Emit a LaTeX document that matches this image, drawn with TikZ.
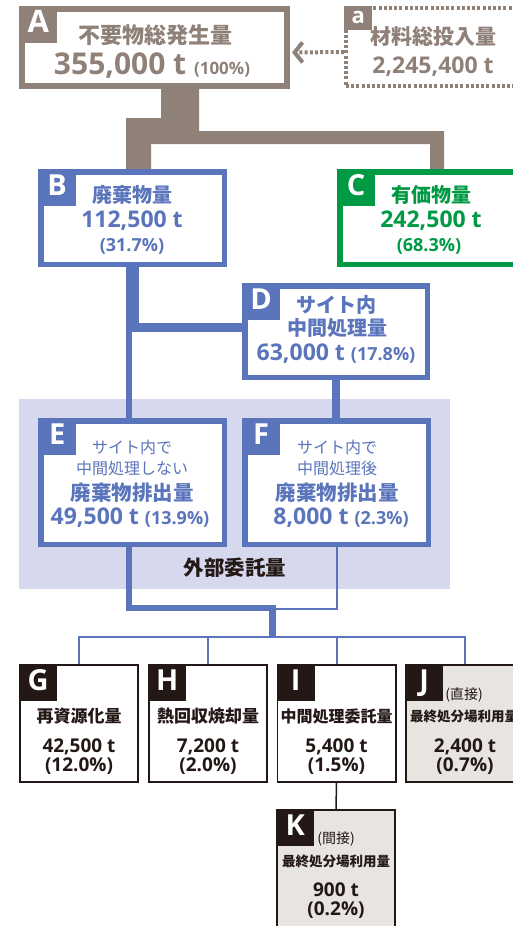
\documentclass[tikz,border=0pt]{standalone}
\usepackage{fontspec}
\setmainfont{Open Sans}
\newfontfamily\jpfont{Noto Sans CJK JP}
\usetikzlibrary{arrows.meta, positioning, calc}
\definecolor{flowBrown}{HTML}{8F8078}
\definecolor{flowBlue}{HTML}{5A75BB}
\definecolor{flowGreen}{HTML}{009A44}
\definecolor{outsourceBack}{HTML}{D6D9EE}
\definecolor{inkDark}{HTML}{231815}
\definecolor{landfillGray}{HTML}{E8E5E1}
\newcommand{\setfs}[1]{\fontsize{#1}{#1}\selectfont}

\begin{document}
\begin{tikzpicture}[
    x=1pt, y=-1pt,
    box/.style={fill=white, inner sep=0pt},
    brownbox/.style={box, draw=flowBrown, line width=6pt},
    dotbox/.style={box, draw=flowBrown, line width=4pt, dash pattern=on 3pt off 2.2pt},
    bluebox/.style={box, draw=flowBlue, line width=5.5pt},
    greenbox/.style={box, draw=flowGreen, line width=5.5pt},
    darkbox/.style={box, draw=inkDark, line width=1.8pt},
    tagsq/.style={
        anchor=north west,
        minimum width=38pt,
        minimum height=37pt,
        inner sep=0pt,
        text=white,
        font=\bfseries\setfs{29},
        text height=21pt,
        text depth=6pt
    },
    jpt/.style={inner sep=0pt, font=\jpfont\bfseries\setfs{#1}},
    jpr/.style={inner sep=0pt, font=\jpfont\setfs{#1}},
    num/.style={inner sep=0pt, font=\bfseries\setfs{#1}},
    thinflow/.style={draw=flowBlue, line width=2pt},
    dotarrow/.style={
        draw=flowBrown,
        line width=4pt,
        dash pattern=on 3pt off 2.2pt,
        -{Straight Barb[length=8pt, width=20pt]}
    }
]
\useasboundingbox (0,0) rectangle (513,926);
\begin{scope}
\clip (0,0) rectangle (513,926);

% Outsourced area
\fill[outsourceBack] (19,399) rectangle (450,589);

% Flow from A to B and C
\fill[flowBrown] (161,88) -- (199,88) -- (199,131) -- (444,131) -- (444,170)
    -- (430,170) -- (430,144) -- (151,144) -- (151,170) -- (126,170)
    -- (126,118) -- (161,118) -- cycle;

% Flow from B to D, E, F
\fill[flowBlue] (126,266) rectangle (139,332);
\fill[flowBlue] (126,323) rectangle (243,332);
\fill[flowBlue] (126,332) rectangle (132,419);
\fill[flowBlue] (332,379) rectangle (340,419);
\fill[flowBlue] (126,546) rectangle (132,611);
\fill[flowBlue] (126,605) rectangle (276,611);
\fill[flowBlue] (269,605) rectangle (276,638);

% Boxes
\node[brownbox, minimum width=265pt, minimum height=77pt] (A) at (154.5,47.5) {};
\node[dotbox, minimum width=192pt, minimum height=78pt] (a) at (442,47) {};
\node[bluebox, minimum width=183.5pt, minimum height=92.5pt] (B) at (132.5,218) {};
\node[greenbox, minimum width=197.5pt, minimum height=92.5pt] (C) at (438.5,218) {};
\node[bluebox, minimum width=182.5pt, minimum height=91.5pt] (D) at (336,331.5) {};
\node[bluebox, minimum width=183.5pt, minimum height=123.5pt] (E) at (132.5,482.5) {};
\node[bluebox, minimum width=183.5pt, minimum height=123.5pt] (F) at (336.5,482.5) {};
\foreach \n/\x in {G/79,H/208,I/336.5} {
    \node[darkbox, minimum width=118.2pt, minimum height=117.2pt] (\n) at (\x,723.5) {};
}
\node[darkbox, fill=landfillGray, minimum width=118.2pt, minimum height=117.2pt] (J) at (465,723.5) {};
\node[darkbox, fill=landfillGray, minimum width=118.2pt, minimum height=149.2pt] (K) at (336,884.5) {};

% Connectors
\coordinate (bus) at (0,637);
\draw[thinflow] (F.south) |- (276,609);
\draw[thinflow] (G.north) |- (J.north |- bus) -- (J.north);
\foreach \n in {H,I} {
    \draw[thinflow] (\n.north) -- (\n.north |- bus);
}
\draw[inkDark, line width=1.5pt] (I.south) -- (K.north);
\draw[dotarrow] ([yshift=-5pt]a.west) -- ([xshift=2pt, yshift=-5pt]A.east);

% Letter tags
\node[tagsq, fill=flowBrown, font=\bfseries\setfs{31}, text height=22pt] (Atag) at (A.north west) {A};
\node[tagsq, fill=flowBrown, minimum width=28pt, minimum height=24pt,
    font=\bfseries\setfs{22}, text height=12pt, text depth=2pt] (atag) at (a.north west) {a};
\foreach \n in {B,D,E,F} {
    \node[tagsq, fill=flowBlue] (\n tag) at (\n.north west) {\n};
}
\node[tagsq, fill=flowGreen] (Ctag) at (C.north west) {C};
\foreach \n in {G,H,I,J,K} {
    \node[tagsq, fill=inkDark] (\n tag) at (\n.north west) {\n};
}

% A and a
\node[jpt=22, text=flowBrown] (Atitle) at (155,35) {不要物総発生量};
\node[num=30, text=flowBrown] (Aval) at (152,66) {355,000 t {\setfs{17}(100\%)}};
\node[jpt=21, text=flowBrown] (atitle) at (433,37) {材料総投入量};
\node[num=23, text=flowBrown] (aval) at (433,67) {2,245,400 t};

% B and C
\node[jpt=20, text=flowBlue] (Btitle) at (132,195) {廃棄物量};
\node[num=23, text=flowBlue] (Bval) at (132,221) {112,500 t};
\node[num=18, text=flowBlue] (Bpct) at (132,246) {(31.7\%)};
\node[jpt=20, text=flowGreen] (Ctitle) at (431,195) {有価物量};
\node[num=23, text=flowGreen] (Cval) at (431,221) {242,500 t};
\node[num=18, text=flowGreen] (Cpct) at (429,246) {(68.3\%)};

% D
\node[jpt=20, text=flowBlue] (Dtitle1) at (336,305) {サイト内};
\node[jpt=20, text=flowBlue] (Dtitle2) at (337,328) {中間処理量};
\node[num=23, text=flowBlue] (Dval) at (336,354) {63,000 t {\setfs{18}(17.8\%)}};

% E and F
\node[jpr=16, text=flowBlue] (Enote1) at (132,447) {サイト内で};
\node[jpr=16, text=flowBlue] (Enote2) at (132,468) {中間処理しない};
\node[jpt=20.5, text=flowBlue] (Etitle) at (132,493) {廃棄物排出量};
\node[num=23, text=flowBlue] (Eval) at (130,518) {49,500 t {\setfs{18}(13.9\%)}};
\node[jpr=16, text=flowBlue] (Fnote1) at (337,447) {サイト内で};
\node[jpr=16, text=flowBlue] (Fnote2) at (337,468) {中間処理後};
\node[jpt=20.5, text=flowBlue] (Ftitle) at (337,493) {廃棄物排出量};
\node[num=23, text=flowBlue] (Fval) at (341,518) {8,000 t {\setfs{18}(2.3\%)}};

\node[jpt=20.5, text=inkDark] (outsource) at (235,568) {外部委託量};

% G to K
\node[jpt=17, text=inkDark] (Gtitle) at (79,716) {再資源化量};
\node[num=19, text=inkDark] (Gval) at (79,747) {42,500 t};
\node[num=19, text=inkDark] (Gpct) at (79,766) {(12.0\%)};
\node[jpt=17, text=inkDark] (Htitle) at (208,716) {熱回収焼却量};
\node[num=19, text=inkDark] (Hval) at (208,747) {7,200 t};
\node[num=19, text=inkDark] (Hpct) at (208,766) {(2.0\%)};
\node[jpt=16, text=inkDark] (Ititle) at (336.5,716) {中間処理委託量};
\node[num=19, text=inkDark] (Ival) at (336.5,747) {5,400 t};
\node[num=19, text=inkDark] (Ipct) at (336.5,766) {(1.5\%)};
\node[jpr=14, text=inkDark] (Jnote) at (464,695) {(直接)};
\node[jpt=13.5, text=inkDark] (Jtitle) at (464,716) {最終処分場利用量};
\node[num=19, text=inkDark] (Jval) at (465,747) {2,400 t};
\node[num=19, text=inkDark] (Jpct) at (465,766) {(0.7\%)};
\node[jpr=14, text=inkDark] (Knote) at (336,839) {(間接)};
\node[jpt=13.5, text=inkDark] (Ktitle) at (336,861) {最終処分場利用量};
\node[num=19, text=inkDark] (Kval) at (336,890) {900 t};
\node[num=19, text=inkDark] (Kpct) at (336,910) {(0.2\%)};
\end{scope}
\end{tikzpicture}
\end{document}
